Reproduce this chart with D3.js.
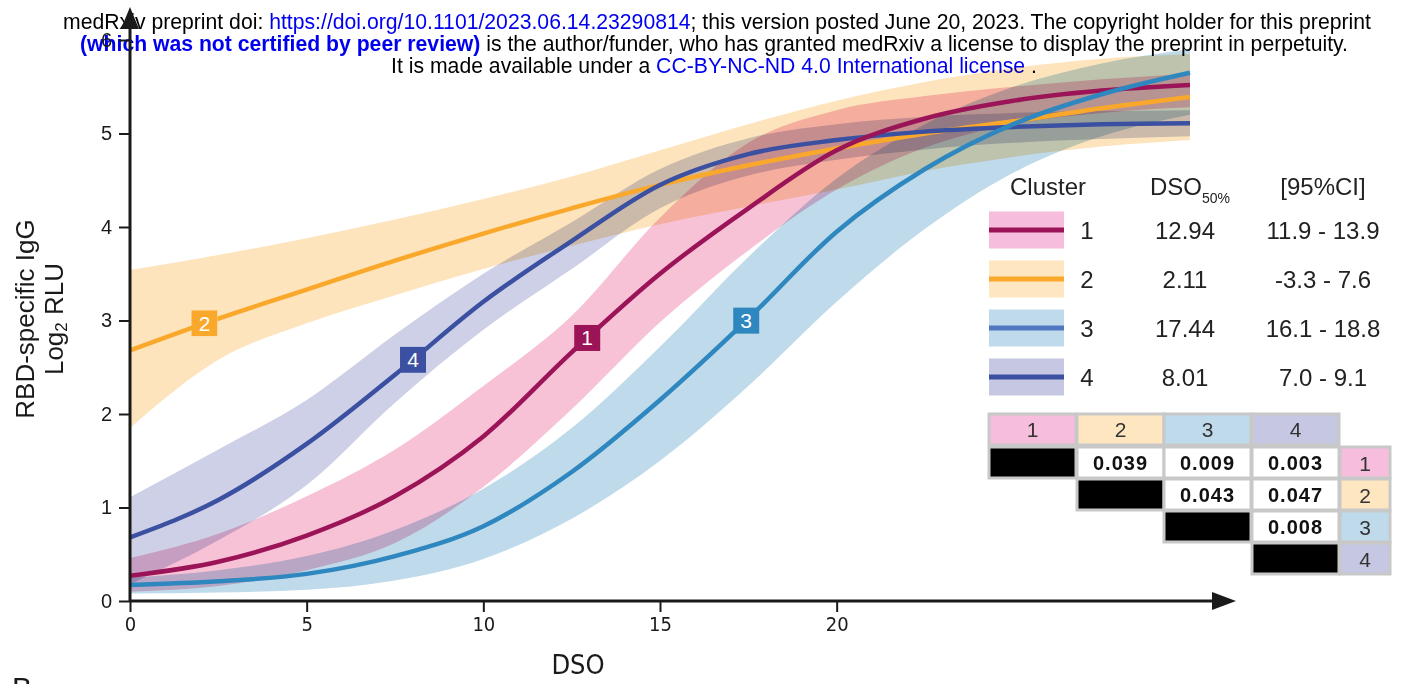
<!DOCTYPE html>
<html>
<head>
<meta charset="utf-8">
<title>RBD-specific IgG by cluster</title>
<script src="https://cdn.jsdelivr.net/npm/d3@7"></script>
<style>
  body { margin: 0; background: #fff; }
  svg { display: block; font-family: "Liberation Sans", Arial, sans-serif; }
  .band { mix-blend-mode: multiply; }
</style>
</head>
<body>
<svg id="chart" width="1407" height="684"></svg>
<script>
// days since onset grid
const dso = [0, 2.5, 5, 7.5, 10, 12.5, 15, 17.5, 20, 22.5, 25, 27.5, 30];

// fitted curves + 95% bands (log2 RLU)
const fit1 = [0.27, 0.42, 0.70, 1.12, 1.76, 2.66, 3.50, 4.20, 4.82, 5.16, 5.35, 5.46, 5.52];
const lo1  = [0.10, 0.16, 0.33, 0.62, 1.22, 2.05, 2.98, 3.75, 4.40, 4.85, 5.10, 5.22, 5.28];
const hi1  = [0.46, 0.72, 1.12, 1.62, 2.30, 3.05, 4.10, 4.90, 5.25, 5.40, 5.50, 5.58, 5.64];

const fit2 = [2.68, 3.02, 3.33, 3.64, 3.93, 4.20, 4.45, 4.66, 4.84, 5.00, 5.13, 5.27, 5.39];
const lo2  = [1.85, 2.58, 2.97, 3.27, 3.55, 3.80, 4.03, 4.22, 4.40, 4.60, 4.75, 4.86, 4.93];
const hi2  = [3.54, 3.70, 3.88, 4.08, 4.30, 4.54, 4.82, 5.10, 5.35, 5.55, 5.70, 5.80, 5.85];

const fit3 = [0.17, 0.21, 0.29, 0.48, 0.80, 1.38, 2.15, 3.02, 3.95, 4.62, 5.10, 5.42, 5.65];
const lo3  = [0.08, 0.09, 0.12, 0.22, 0.45, 0.88, 1.50, 2.30, 3.20, 3.98, 4.58, 4.97, 5.20];
const hi3  = [0.25, 0.33, 0.48, 0.76, 1.20, 1.85, 2.72, 3.68, 4.52, 5.10, 5.50, 5.75, 5.90];

const fit4 = [0.68, 1.08, 1.68, 2.42, 3.20, 3.85, 4.45, 4.78, 4.93, 5.02, 5.07, 5.10, 5.11];
const lo4  = [0.18, 0.65, 1.24, 2.12, 2.90, 3.55, 4.20, 4.55, 4.72, 4.83, 4.90, 4.94, 4.97];
const hi4  = [1.11, 1.62, 2.15, 2.85, 3.50, 4.05, 4.62, 4.95, 5.10, 5.18, 5.22, 5.24, 5.25];

const clusters = ["1", "2", "3", "4"];
const dso50 = [12.94, 2.11, 17.44, 8.01];
const dso50Text = ["12.94", "2.11", "17.44", "8.01"];
const ci95 = ["11.9 - 13.9", "-3.3 - 7.6", "16.1 - 18.8", "7.0 - 9.1"];

// pairwise p-values (upper triangle)
const pRow1 = [null, "0.039", "0.009", "0.003"];
const pRow2 = [null, null, "0.043", "0.047"];
const pRow3 = [null, null, null, "0.008"];
const pRow4 = [null, null, null, null];

const xTicks = [0, 5, 10, 15, 20];
const yTicks = [0, 1, 2, 3, 4, 5, 6];

const lineColors = ["#9b1458", "#f9a82c", "#2f87bf", "#3b50a1"];
const bandColors = ["#f7c2d6", "#fde4bc", "#bfdaea", "#cdd0e6"];
const legendLineColors = ["#9b1458", "#f9a82c", "#4f78bf", "#3b50a1"];
const swatchColors = ["#f7bddc", "#fde6c0", "#bfdaea", "#c6c8e3"];

const fits = [fit1, fit2, fit3, fit4];
const los = [lo1, lo2, lo3, lo4];
const his = [hi1, hi2, hi3, hi4];
const pRows = [pRow1, pRow2, pRow3, pRow4];

const svg = d3.select("#chart");
const ink = "#1a1a1a";
const condensed = "DejaVu Sans Condensed, Liberation Sans Narrow, sans-serif";

// ---- preprint header ----
const header = svg.append("g").attr("font-size", 21.2).attr("text-anchor", "middle").attr("fill", "#000");
let t = header.append("text").attr("x", 717).attr("y", 29);
t.append("tspan").text("medRxiv preprint doi: ");
t.append("tspan").attr("fill", "#0000ee").text("https://doi.org/10.1101/2023.06.14.23290814");
t.append("tspan").text("; this version posted June 20, 2023. The copyright holder for this preprint");
t = header.append("text").attr("x", 714).attr("y", 51);
t.append("tspan").attr("fill", "#0000ee").attr("font-weight", "bold").text("(which was not certified by peer review)");
t.append("tspan").text(" is the author/funder, who has granted medRxiv a license to display the preprint in perpetuity.");
t = header.append("text").attr("x", 714).attr("y", 73);
t.append("tspan").text("It is made available under a ");
t.append("tspan").attr("fill", "#0000ee").text("CC-BY-NC-ND 4.0 International license");
t.append("tspan").text(" .");

// ---- scales ----
const x = d3.scaleLinear().domain([0, 30]).range([130, 1190]);
const y = d3.scaleLinear().domain([0, 6]).range([601, 40]);

const plot = svg.append("g");

const area = d3.area()
  .x((d, i) => x(dso[i]))
  .y0(d => y(d[0]))
  .y1(d => y(d[1]))
  .curve(d3.curveMonotoneX);

const line = d3.line()
  .x((d, i) => x(dso[i]))
  .y(d => y(d))
  .curve(d3.curveMonotoneX);

clusters.forEach((c, k) => {
  plot.append("path")
    .attr("class", "band")
    .attr("d", area(los[k].map((v, i) => [v, his[k][i]])))
    .attr("fill", bandColors[k]);
});

// drawing order as in the figure: 2, 4, 1, 3
const lineOrder = [1, 3, 0, 2];
const paths = [];
lineOrder.forEach(k => {
  paths[k] = plot.append("path")
    .attr("d", line(fits[k]))
    .attr("fill", "none")
    .attr("stroke", lineColors[k])
    .attr("stroke-width", 4.5);
});

function yAt(path, px) {
  const node = path.node();
  let lo = 0, hi = node.getTotalLength(), p;
  for (let i = 0; i < 40; i++) {
    const mid = (lo + hi) / 2;
    p = node.getPointAtLength(mid);
    if (p.x < px) lo = mid; else hi = mid;
  }
  return p.y;
}

// cluster labels sitting on each curve at its DSO50
clusters.forEach((c, k) => {
  const px = x(dso50[k]);
  const py = yAt(paths[k], px);
  const g = plot.append("g").attr("transform", `translate(${px},${py})`);
  g.append("rect").attr("x", -13).attr("y", -13).attr("width", 26).attr("height", 26).attr("fill", lineColors[k]);
  g.append("text").attr("text-anchor", "middle").attr("y", 7.5)
    .attr("fill", "#fff").attr("font-size", 21).text(c);
});

// ---- axes ----
const xAxis = svg.append("g").attr("transform", "translate(0,601)")
  .call(d3.axisBottom(x).tickValues(xTicks).tickSize(11).tickPadding(5));
xAxis.attr("font-family", condensed);
xAxis.select(".domain").remove();
xAxis.selectAll(".tick line").attr("stroke", ink).attr("stroke-width", 2);
xAxis.selectAll(".tick text").attr("font-size", 20).attr("fill", ink);

const yAxis = svg.append("g").attr("transform", "translate(130,0)")
  .call(d3.axisLeft(y).tickValues(yTicks).tickFormat(d3.format("d")).tickSize(11).tickPadding(7));
yAxis.attr("font-family", "Liberation Sans, Arial, sans-serif");
yAxis.select(".domain").remove();
yAxis.selectAll(".tick line").attr("stroke", ink).attr("stroke-width", 2);
yAxis.selectAll(".tick text").attr("font-size", 20).attr("fill", ink);

svg.append("line").attr("x1", 130).attr("x2", 1218).attr("y1", 601).attr("y2", 601)
  .attr("stroke", ink).attr("stroke-width", 3);
svg.append("path").attr("d", "M1236,601 L1212,592 L1212,610 Z").attr("fill", ink);
svg.append("line").attr("x1", 130).attr("x2", 130).attr("y1", 601).attr("y2", 26)
  .attr("stroke", ink).attr("stroke-width", 3);
svg.append("path").attr("d", "M130,7 L121,29 L139,29 Z").attr("fill", ink);

svg.append("text").attr("x", 578).attr("y", 674)
  .attr("font-family", condensed)
  .attr("text-anchor", "middle").attr("font-size", 27).attr("fill", ink).text("DSO");

const yt = svg.append("g").attr("transform", "translate(0,319) rotate(-90)")
  .attr("text-anchor", "middle").attr("font-size", 26).attr("fill", ink);
yt.append("text").attr("x", 0).attr("y", 34).text("RBD-specific IgG");
const yt2 = yt.append("text").attr("x", 0).attr("y", 63);
yt2.append("tspan").text("Log");
yt2.append("tspan").attr("font-size", 17).attr("dy", 4).text("2");
yt2.append("tspan").attr("dy", -4).text(" RLU");

svg.append("text").attr("x", 12).attr("y", 698).attr("font-size", 30).attr("fill", ink).text("B");

// ---- legend ----
const leg = svg.append("g").attr("font-size", 24).attr("fill", "#222").attr("text-anchor", "middle");
leg.append("text").attr("x", 1048).attr("y", 195).text("Cluster");
const dh = leg.append("text").attr("x", 1190).attr("y", 195);
dh.append("tspan").text("DSO");
dh.append("tspan").attr("font-size", 14).attr("dy", 8).text("50%");
leg.append("text").attr("x", 1323).attr("y", 195).text("[95%CI]");

const rowY = [230, 279, 328, 377];
clusters.forEach((c, k) => {
  const ry = rowY[k];
  leg.append("rect").attr("x", 989).attr("y", ry - 18.5).attr("width", 75).attr("height", 37).attr("fill", swatchColors[k]);
  leg.append("line").attr("x1", 989).attr("x2", 1064).attr("y1", ry).attr("y2", ry)
    .attr("stroke", legendLineColors[k]).attr("stroke-width", 5);
  leg.append("text").attr("x", 1087).attr("y", ry + 9).text(c);
  leg.append("text").attr("x", 1185).attr("y", ry + 9).text(dso50Text[k]);
  leg.append("text").attr("x", 1323).attr("y", ry + 9).text(ci95[k]);
});

// ---- p-value table ----
const tab = svg.append("g").attr("text-anchor", "middle");
const colX = [989, 1077, 1164, 1252];
const cellW = 87, cellH = 31;
const headY = 414;
const bodyY = [447, 479, 511, 543];
const grid = "#c8c8c8";

clusters.forEach((c, k) => {
  tab.append("rect").attr("x", colX[k]).attr("y", headY).attr("width", cellW).attr("height", cellH)
    .attr("fill", swatchColors[k]).attr("stroke", grid).attr("stroke-width", 3);
  tab.append("text").attr("x", colX[k] + cellW / 2).attr("y", headY + 23)
    .attr("font-size", 21).attr("fill", "#333").text(c);
});

pRows.forEach((row, r) => {
  row.forEach((v, cIdx) => {
    if (cIdx < r) return;
    const rx = colX[cIdx], ry = bodyY[r];
    tab.append("rect").attr("x", rx).attr("y", ry).attr("width", cellW).attr("height", cellH)
      .attr("fill", v === null ? "#000" : "#fff").attr("stroke", grid).attr("stroke-width", 3);
    if (v !== null) {
      tab.append("text").attr("x", rx + cellW / 2).attr("y", ry + 23)
        .attr("font-size", 20).attr("font-weight", "bold").attr("letter-spacing", 1).attr("fill", "#111").text(v);
    }
  });
  tab.append("rect").attr("x", 1340).attr("y", bodyY[r]).attr("width", 50).attr("height", cellH)
    .attr("fill", swatchColors[r]).attr("stroke", grid).attr("stroke-width", 3);
  tab.append("text").attr("x", 1365).attr("y", bodyY[r] + 24)
    .attr("font-size", 21).attr("fill", "#333").text(clusters[r]);
});
</script>
</body>
</html>
